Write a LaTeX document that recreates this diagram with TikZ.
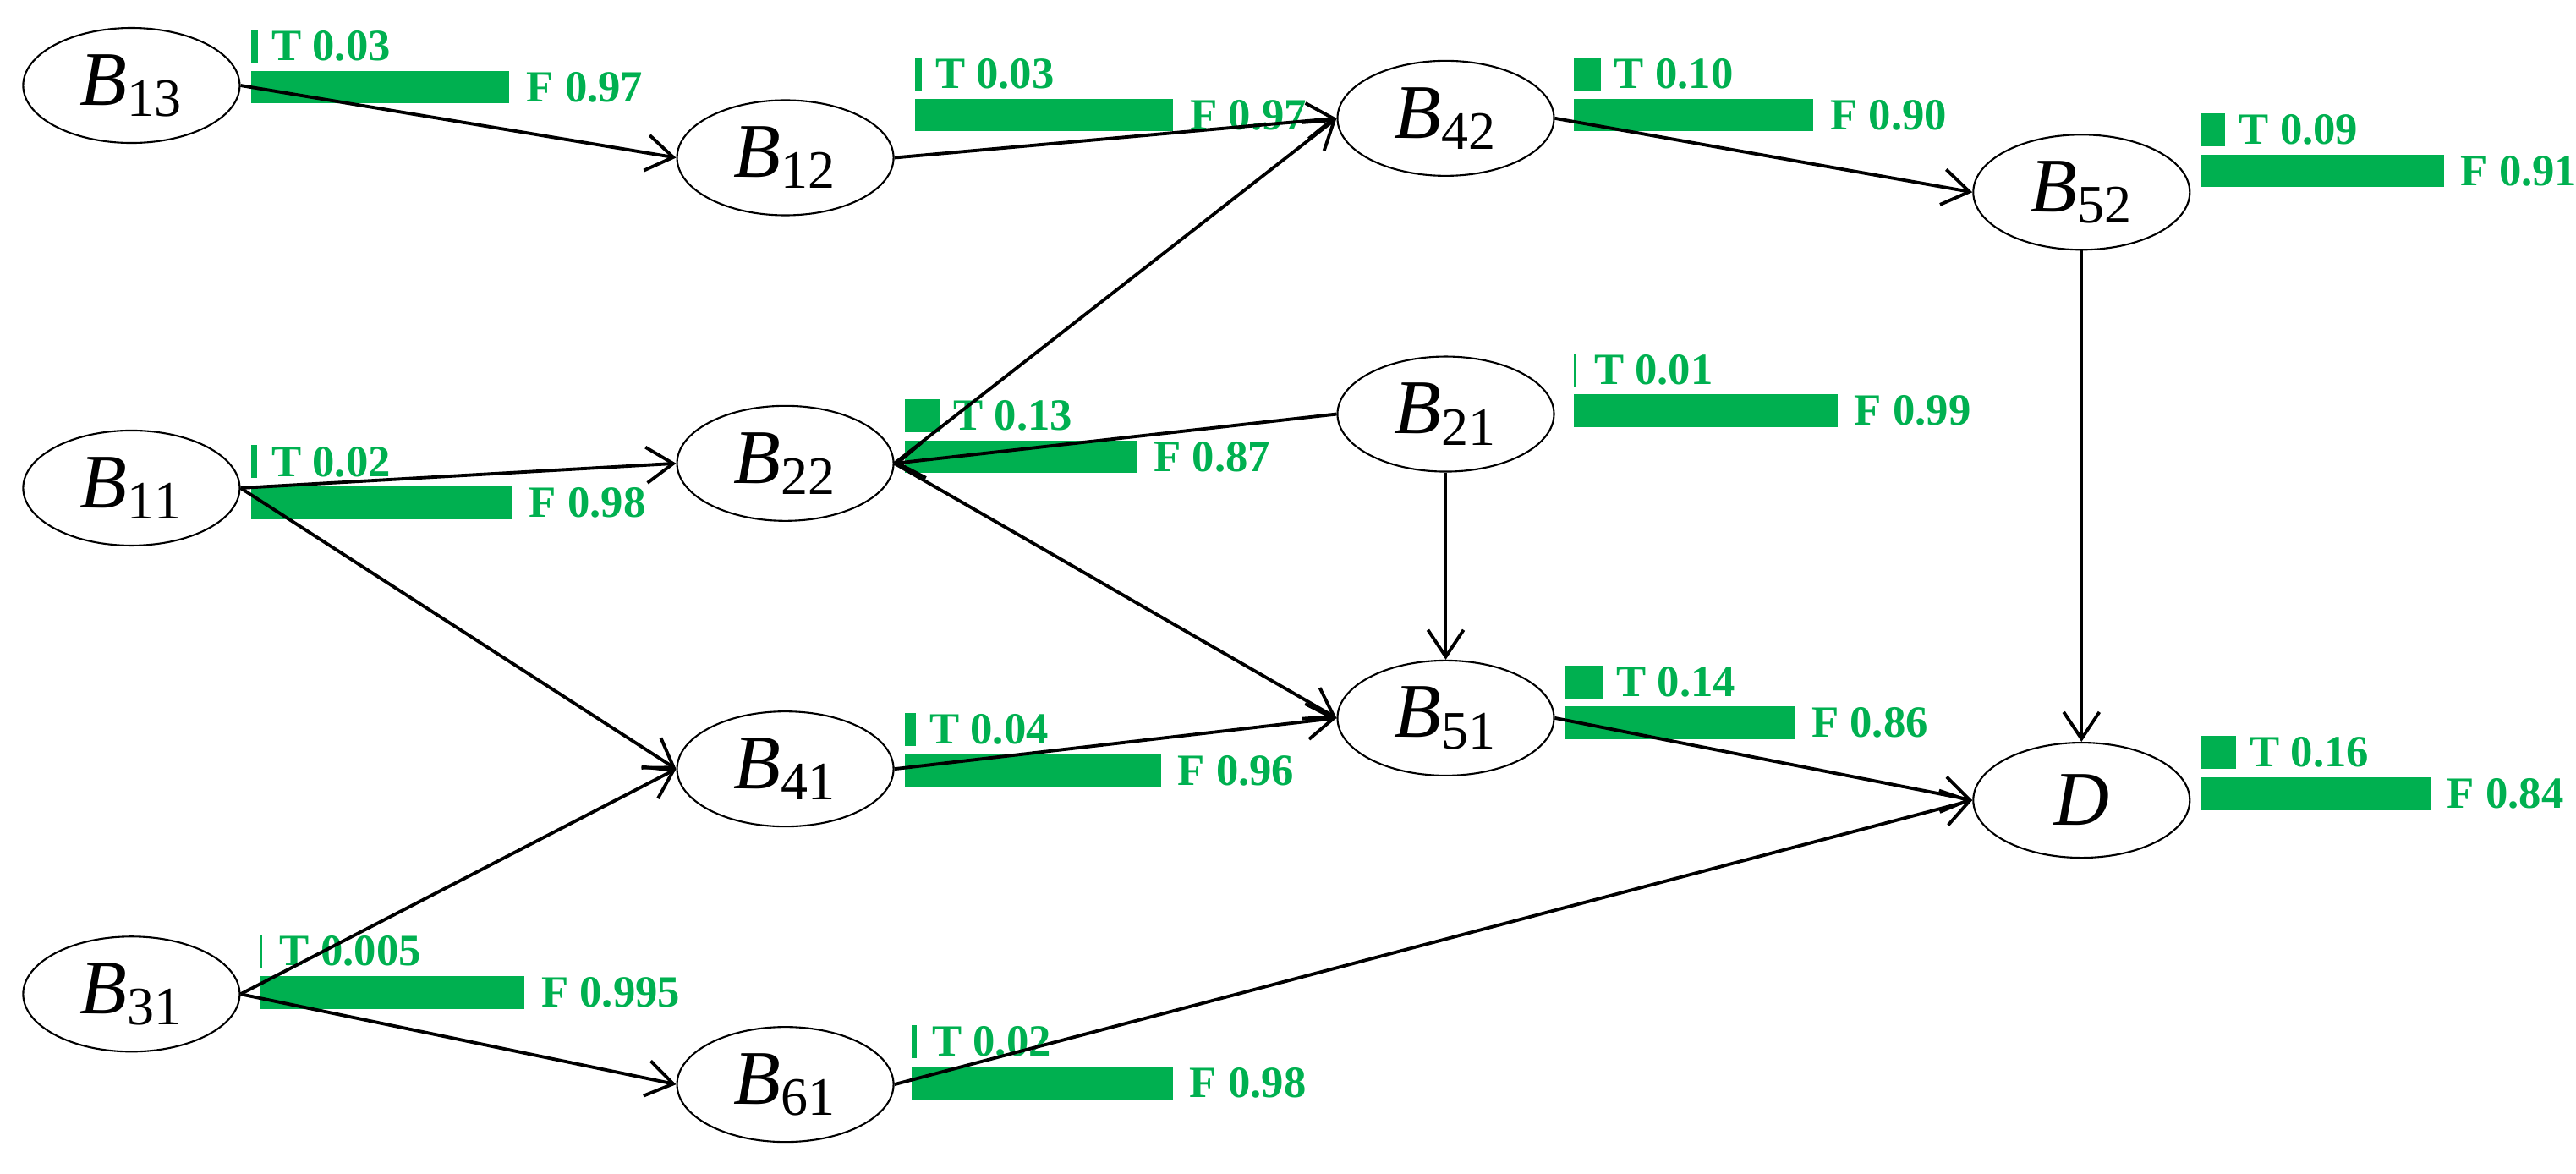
\documentclass[tikz,border=0pt]{standalone}
\usepackage{fontspec}
\setmainfont{Liberation Serif}
\usetikzlibrary{arrows.meta,shapes.geometric}
\definecolor{bar}{RGB}{0,176,80}
\begin{document}
\begin{tikzpicture}[x=0.01943cm,y=-0.01943cm,
  bn/.style={ellipse,draw,line width=0.6pt,minimum width=132\pgflinewidth,inner sep=0pt},
  nd/.style={ellipse,draw,line width=0.6pt,minimum width=2.56cm,minimum height=1.36cm,inner sep=0pt,font=\fontsize{26}{28}\selectfont\itshape},
  ar/.style={line width=1.1pt,-{Straight Barb[length=9pt,width=12pt,line width=1.1pt]}},
  lb/.style={font=\fontsize{15}{16}\selectfont\bfseries,text=bar,anchor=west,inner sep=0pt}]
\useasboundingbox (0,0) rectangle (1568,714.5);
\newcommand\bars[5]{% x, yT, T, F, labels
  \fill[bar] (#1,#2) rectangle ++({162*#3},20);
  \fill[bar] (#1,#2+25) rectangle ++({162*#4},20);
  \node[lb] at ({#1+max(162*#3,4)+8},#2+10) {T #5};
}
\newcommand\flab[4]{\node[lb] at ({#1+162*#3+10},#2+35) {F #4};}
\foreach \x/\y/\t/\f/\ts/\fs in {153/18/0.024/0.97/0.03/0.97, 557/35/0.024/0.97/0.03/0.97, 958/35/0.10/0.90/0.10/0.90, 1340/69/0.09/0.91/0.09/0.91, 958/215/0.01/0.99/0.01/0.99, 551/243/0.13/0.87/0.13/0.87, 153/271/0.02/0.98/0.02/0.98, 953/405/0.14/0.86/0.14/0.86, 551/434/0.04/0.96/0.04/0.96, 1340/448/0.13/0.86/0.16/0.84, 158/569/0.01/0.995/0.005/0.995, 555/624/0.02/0.98/0.02/0.98}{
  \bars{\x}{\y}{\t}{\f}{\ts}
  \flab{\x}{\y}{\f}{\fs}
}
\node[nd] (B13) at (80,52) {B$_{\mathrm{13}}$};
\node[nd] (B12) at (478,96) {B$_{\mathrm{12}}$};
\node[nd] (B42) at (880,72) {B$_{\mathrm{42}}$};
\node[nd] (B52) at (1267,117) {B$_{\mathrm{52}}$};
\node[nd] (B11) at (80,297) {B$_{\mathrm{11}}$};
\node[nd] (B22) at (478,282) {B$_{\mathrm{22}}$};
\node[nd] (B21) at (880,252) {B$_{\mathrm{21}}$};
\node[nd] (B41) at (478,468) {B$_{\mathrm{41}}$};
\node[nd] (B51) at (880,437) {B$_{\mathrm{51}}$};
\node[nd] (D) at (1267,487) {D};
\node[nd] (B31) at (80,605) {B$_{\mathrm{31}}$};
\node[nd] (B61) at (478,660) {B$_{\mathrm{61}}$};
\draw[ar] (B13.east) -- (B12.west);
\draw[ar] (B12.east) -- (B42.west);
\draw[ar] (B42.east) -- (B52.west);
\draw[ar] (B11.east) -- (B22.west);
\draw[ar] (B11.east) -- (B41.west);
\draw[ar] (B31.east) -- (B41.west);
\draw[ar] (B31.east) -- (B61.west);
\draw[ar] (B22.east) -- (B42.west);
\draw[ar] (B21.west) -- (B22.east);
\draw[ar] (B22.east) -- (B51.west);
\draw[ar] (B21.south) -- (B51.north);
\draw[ar] (B41.east) -- (B51.west);
\draw[ar] (B51.east) -- (D.west);
\draw[ar] (B61.east) -- (D.west);
\draw[ar] (B52.south) -- (D.north);
\end{tikzpicture}
\end{document}
